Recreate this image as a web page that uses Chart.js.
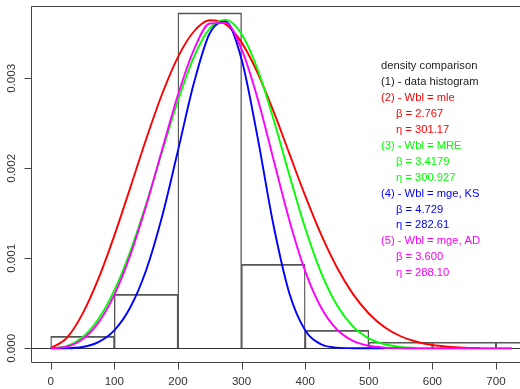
<!DOCTYPE html>
<html>
<head>
<meta charset="utf-8">
<script src="https://cdn.jsdelivr.net/npm/chart.js@4.4.0/dist/chart.umd.min.js"></script>
<style>
  html, body { margin: 0; padding: 0; background: #fff; overflow: hidden; }
  #wrap { width: 520px; height: 389px; }
</style>
</head>
<body>
<div id="wrap"><canvas id="densityChart"></canvas></div>
<script>
// ==================================================================
//                              DATA
// ==================================================================
// x positions where the density curves were read off
const xGrid = [0, 25, 50, 75, 100, 125, 150, 175, 200, 225, 250, 275, 300, 325, 350,
               375, 400, 425, 450, 475, 500, 525, 550, 575, 600, 625, 650, 675, 700, 725];

// (2) Wbl = mle
const wblMle = [0, 0.000113, 0.000383, 0.000773, 0.001252, 0.001783, 0.002323, 0.002823, 0.003236, 0.003520,
                0.003645, 0.003602, 0.003399, 0.003064, 0.002637, 0.002166, 0.001696, 0.001265, 0.000898, 0.000605,
                0.000387, 0.000234, 0.000134, 0.000073, 0.000037, 0.000018, 0.000008, 0.000003, null, null];
// (3) Wbl = MRE
const wblMre = [0, 0.000023, 0.000123, 0.000326, 0.000644, 0.001076, 0.001602, 0.002182, 0.002751, 0.003236,
                0.003555, 0.003649, 0.003491, 0.003103, 0.002551, 0.001929, 0.001336, 0.000841, 0.000479, 0.000244,
                0.000111, 0.000045, 0.000016, 0.000005, null, null, null, null, null, null];
// (4) Wbl = mge, KS
const wblKs  = [0, 0.000001, 0.000015, 0.000069, 0.000200, 0.000453, 0.000867, 0.001461, 0.002194, 0.002944,
                0.003500, 0.003630, 0.003211, 0.002352, 0.001375, 0.000615, 0.000201, 0.000045, 0.000007, 0.000001,
                0, 0, null, null, null, null, null, null, null, null];
// (5) Wbl = mge, AD
const wblAd  = [0, 0.000017, 0.000100, 0.000285, 0.000594, 0.001032, 0.001583, 0.002203, 0.002813, 0.003316,
                0.003609, 0.003616, 0.003323, 0.002781, 0.002104, 0.001426, 0.000858, 0.000454, 0.000209, 0.000083,
                0.000028, 0.000008, 0.000002, 0, 0, 0, 0, 0, 0, 0];

// (1) data histogram
const binEdges   = [0, 100, 200, 300, 400, 500, 600, 700, 800];
const binDensity = [0.000133, 0.000600, 0.003727, 0.000933, 0.000200, 0.000067, 0.000067, 0.000067];

// axes
const xTicks = [0, 100, 200, 300, 400, 500, 600, 700];
const yTicks = [0, 0.001, 0.002, 0.003];
const yTickLabels = ['0.000', '0.001', '0.002', '0.003'];

// legend text
const legendLines = [
  'density comparison',
  '(1) - data histogram',
  '(2) - Wbl = mle', 'β = 2.767', 'η = 301.17',
  '(3) - Wbl = MRE', 'β = 3.4179', 'η = 300.927',
  '(4) - Wbl = mge, KS', 'β = 4.729', 'η = 282.61',
  '(5) - Wbl = mge, AD', 'β = 3.600', 'η = 288.10'
];

// ==================================================================
//                              STYLE
// ==================================================================
const RED = '#ff0000', GREEN = '#00ff00', BLUE = '#0000ff', MAGENTA = '#ff00ff', INK = '#222';
const legendColors = [INK, INK, RED, RED, RED, GREEN, GREEN, GREEN, BLUE, BLUE, BLUE, MAGENTA, MAGENTA, MAGENTA];
const FONT = '"Liberation Sans", Arial, sans-serif';

// helper: pair x grid with a series
const toPoints = (vals) => xGrid.map((x, i) => ({ x: x, y: vals[i] }));

// histogram bars centred in each bin
const histPoints = binDensity.map((d, i) => ({ x: (binEdges[i] + binEdges[i + 1]) / 2, y: d }));

// ==================================================================
//                    PLUGIN: R-style frame, axes, legend
// ==================================================================
const rStylePlugin = {
  id: 'rStyle',
  beforeDatasetsDraw: (chart) => {
    const ctx = chart.ctx;
    const a = chart.chartArea;
    const y0 = Math.round(chart.scales.y.getPixelForValue(0)) + 0.5;
    // abline(h = 0)
    ctx.save();
    ctx.strokeStyle = '#333';
    ctx.lineWidth = 1;
    ctx.beginPath();
    ctx.moveTo(a.left, y0);
    ctx.lineTo(a.right, y0);
    ctx.stroke();
    ctx.restore();
  },
  afterDraw: (chart) => {
    const ctx = chart.ctx;
    const a = chart.chartArea;
    const xs = chart.scales.x;
    const ys = chart.scales.y;
    const L = a.left + 0.5, T = a.top + 0.5, B = a.bottom + 0.5;

    ctx.save();
    // box (right side falls outside the window)
    ctx.strokeStyle = '#444';
    ctx.lineWidth = 1;
    ctx.beginPath();
    ctx.moveTo(a.right, T);
    ctx.lineTo(L, T);
    ctx.lineTo(L, B);
    ctx.lineTo(a.right, B);
    ctx.stroke();

    // x ticks + labels
    ctx.fillStyle = '#333';
    ctx.font = '11.6px ' + FONT;
    ctx.textAlign = 'center';
    ctx.textBaseline = 'middle';
    xTicks.forEach((v) => {
      const px = Math.round(xs.getPixelForValue(v)) + 0.5;
      ctx.beginPath();
      ctx.moveTo(px, B);
      ctx.lineTo(px, B + 7);
      ctx.stroke();
      ctx.fillText(String(v), xs.getPixelForValue(v), 382);
    });

    // y ticks + rotated labels
    yTicks.forEach((v, i) => {
      const py = Math.round(ys.getPixelForValue(v)) + 0.5;
      ctx.beginPath();
      ctx.moveTo(L - 7, py);
      ctx.lineTo(L, py);
      ctx.stroke();
      ctx.save();
      ctx.translate(11.5, ys.getPixelForValue(v));
      ctx.rotate(-Math.PI / 2);
      ctx.fillText(yTickLabels[i], 0, 0);
      ctx.restore();
    });

    // legend text block
    ctx.font = '11.2px ' + FONT;
    ctx.textAlign = 'left';
    legendLines.forEach((txt, i) => {
      const indent = (txt[0] === 'β' || txt[0] === 'η') ? 15 : 0;
      ctx.fillStyle = legendColors[i];
      ctx.fillText(txt, 381 + indent, 65.7 + i * 15.97);
    });
    ctx.restore();
  }
};

// ==================================================================
//                              CHART
// ==================================================================
const curveStyle = (color, order) => ({
  type: 'line',
  borderColor: color,
  borderWidth: 1.9,
  pointRadius: 0,
  fill: false,
  spanGaps: false,
  cubicInterpolationMode: 'monotone',
  order: order
});

const ctx = document.getElementById('densityChart').getContext('2d');
const densityChart = new Chart(ctx, {
  type: 'line',
  data: {
    datasets: [
      {
        type: 'bar',
        label: '(1) - data histogram',
        data: histPoints,
        backgroundColor: 'rgba(0,0,0,0)',
        borderColor: '#555',
        borderWidth: { top: 1, left: 0.7, right: 0.7, bottom: 0 },
        barPercentage: 1,
        categoryPercentage: 1,
        order: 5
      },
      Object.assign({ label: '(2) - Wbl = mle', data: toPoints(wblMle) }, curveStyle(RED, 4)),
      Object.assign({ label: '(3) - Wbl = MRE', data: toPoints(wblMre) }, curveStyle(GREEN, 3)),
      Object.assign({ label: '(4) - Wbl = mge, KS', data: toPoints(wblKs) }, curveStyle(BLUE, 2)),
      Object.assign({ label: '(5) - Wbl = mge, AD', data: toPoints(wblAd) }, curveStyle(MAGENTA, 1))
    ]
  },
  options: {
    responsive: true,
    maintainAspectRatio: false,
    animation: false,
    layout: { padding: { left: 31, top: 6, right: 0, bottom: 27 } },
    plugins: {
      legend: { display: false },
      tooltip: { enabled: false }
    },
    scales: {
      x: { type: 'linear', display: false, offset: false, min: -30.97, max: 737.7 },
      y: { type: 'linear', display: false, min: -0.0001522, max: 0.0038033 }
    }
  },
  plugins: [rStylePlugin]
});
</script>
</body>
</html>
